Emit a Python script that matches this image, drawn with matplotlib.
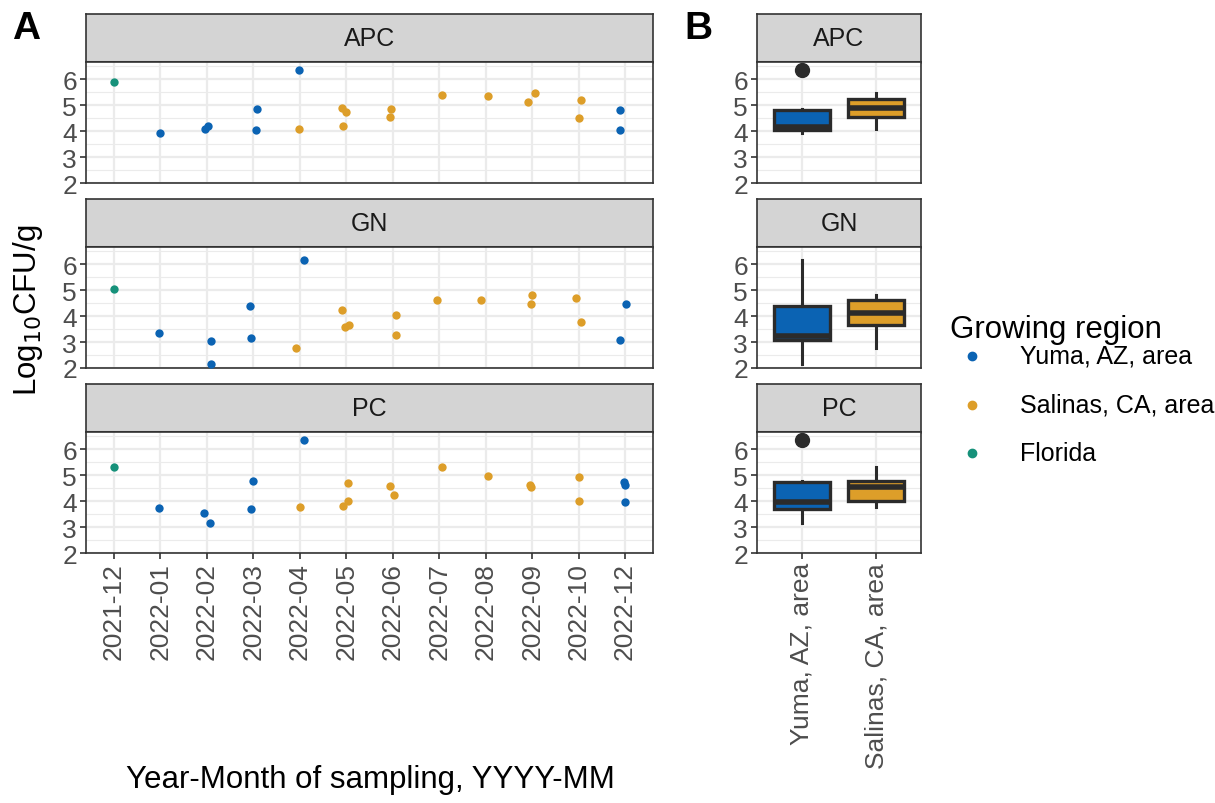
import numpy as np
import matplotlib.pyplot as plt
from matplotlib.ticker import MultipleLocator
from matplotlib.lines import Line2D

plt.rcParams['font.family'] = ['Liberation Sans', 'DejaVu Sans']

months = ['2021-12', '2022-01', '2022-02', '2022-03', '2022-04', '2022-05',
          '2022-06', '2022-07', '2022-08', '2022-09', '2022-10', '2022-12']
region_names = {'Y': 'Yuma, AZ, area', 'S': 'Salinas, CA, area', 'F': 'Florida'}
region_colors = {'Y': '#0B63B3', 'S': '#DD9E29', 'F': '#16917A'}

# APC
apc_month = ['2021-12', '2022-01', '2022-02', '2022-02', '2022-03', '2022-03', '2022-04',
             '2022-04', '2022-05', '2022-05', '2022-05', '2022-06', '2022-06', '2022-07',
             '2022-08', '2022-09', '2022-09', '2022-10', '2022-10', '2022-12', '2022-12']
apc_region = ['F', 'Y', 'Y', 'Y', 'Y', 'Y', 'Y', 'S', 'S', 'S', 'S', 'S', 'S', 'S',
              'S', 'S', 'S', 'S', 'S', 'Y', 'Y']
apc_value = [5.90, 3.92, 4.09, 4.19, 4.86, 4.04, 6.36, 4.08, 4.89, 4.75, 4.19, 4.85,
             4.55, 5.38, 5.35, 5.11, 5.45, 5.21, 4.50, 4.81, 4.05]
apc_jitter = [0, 0, -0.04, 0.02, 0.09, 0.05, -0.02, -0.01, -0.09, 0.0, -0.07, -0.04,
              -0.06, 0.06, 0.06, -0.10, 0.07, 0.05, 0.0, -0.10, -0.10]

# GN
gn_month = ['2021-12', '2022-01', '2022-02', '2022-02', '2022-03', '2022-03', '2022-04',
            '2022-04', '2022-05', '2022-05', '2022-05', '2022-06', '2022-06', '2022-07',
            '2022-08', '2022-09', '2022-09', '2022-10', '2022-10', '2022-12', '2022-12']
gn_region = ['F', 'Y', 'Y', 'Y', 'Y', 'Y', 'Y', 'S', 'S', 'S', 'S', 'S', 'S', 'S',
             'S', 'S', 'S', 'S', 'S', 'Y', 'Y']
gn_value = [5.06, 3.34, 3.03, 2.15, 4.37, 3.15, 6.17, 2.76, 4.22, 3.57, 3.66, 4.04,
            3.29, 4.62, 4.62, 4.80, 4.48, 4.68, 3.79, 4.48, 3.07]
gn_jitter = [0, -0.02, 0.08, 0.08, -0.08, -0.06, 0.08, -0.09, -0.09, -0.03, 0.05, 0.06,
             0.08, -0.05, -0.11, 0.0, -0.03, -0.05, 0.05, 0.01, -0.10]

# PC
pc_month = ['2021-12', '2022-01', '2022-02', '2022-02', '2022-03', '2022-03', '2022-04',
            '2022-04', '2022-05', '2022-05', '2022-05', '2022-06', '2022-06', '2022-07',
            '2022-08', '2022-09', '2022-09', '2022-10', '2022-10', '2022-12', '2022-12',
            '2022-12']
pc_region = ['F', 'Y', 'Y', 'Y', 'Y', 'Y', 'Y', 'S', 'S', 'S', 'S', 'S', 'S', 'S',
             'S', 'S', 'S', 'S', 'S', 'Y', 'Y', 'Y']
pc_value = [5.33, 3.74, 3.55, 3.16, 4.79, 3.70, 6.37, 3.78, 4.70, 4.01, 3.82, 4.58,
            4.23, 5.30, 4.95, 4.62, 4.53, 4.94, 3.99, 4.72, 4.61, 3.96]
pc_jitter = [0, -0.04, -0.06, 0.06, 0.0, -0.06, 0.08, 0.01, 0.03, 0.03, -0.07, -0.05,
             0.02, 0.05, 0.05, -0.04, -0.03, 0.0, 0.0, -0.03, 0.0, 0.0]

assays = [
    ('APC', apc_month, apc_region, apc_value, apc_jitter),
    ('GN', gn_month, gn_region, gn_value, gn_jitter),
    ('PC', pc_month, pc_region, pc_value, pc_jitter),
]

W, H = 1215, 804
fig = plt.figure(figsize=(W / 100, H / 100), dpi=100)


def fax(l, t, r, b):
    return fig.add_axes([l / W, 1 - b / H, (r - l) / W, (b - t) / H])


DARK = '#333333'
GRID = '#EBEBEB'


def style(ax, bottom):
    for s in ax.spines.values():
        s.set_color(DARK)
        s.set_linewidth(1.2)
    ax.set_ylim(2, 6.66)
    ax.set_yticks([2, 3, 4, 5, 6])
    ax.yaxis.set_minor_locator(MultipleLocator(0.5))
    ax.grid(True, which='major', color=GRID, lw=1.6, zorder=0)
    ax.grid(True, which='minor', axis='y', color=GRID, lw=0.8, zorder=0)
    ax.set_axisbelow(True)
    ax.tick_params(axis='both', which='major', direction='out', length=4.5, width=1.2,
                   color=DARK, labelcolor='#4D4D4D', labelsize=19, pad=2)
    ax.tick_params(axis='y', which='minor', length=0)
    if not bottom:
        ax.tick_params(axis='x', length=0, labelbottom=False)


def strip(l, t, r, b, label):
    s = fax(l, t, r, b)
    s.set_facecolor('#D4D4D4')
    s.set_xticks([])
    s.set_yticks([])
    for sp in s.spines.values():
        sp.set_color(DARK)
        sp.set_linewidth(1.2)
    s.spines['bottom'].set_linewidth(2.2)
    s.spines['bottom'].set_capstyle('butt')
    s.text(0.5, 0.5, label, ha='center', va='center', fontsize=18, color='#1A1A1A',
           transform=s.transAxes)


rows = [(15, 63, 184), (200, 248, 369), (385, 433, 554)]
xpos = {m: i for i, m in enumerate(months)}

for k, (name, mon, reg, val, jit) in enumerate(assays):
    st, pt, pb = rows[k]
    bottom = k == 2

    # panel A
    strip(86, st, 653, pt, name)
    ax = fax(86, pt, 653, pb)
    style(ax, bottom)
    for code in ['Y', 'S', 'F']:
        idx = [i for i, r in enumerate(reg) if r == code]
        xs = [xpos[mon[i]] + jit[i] for i in idx]
        ys = [val[i] for i in idx]
        ax.scatter(xs, ys, s=36, color=region_colors[code], zorder=3, linewidths=0)
    ax.set_xlim(-0.6, len(months) - 0.4)
    ax.set_xticks(range(len(months)))
    ax.set_xticklabels(months, rotation=90)

    # panel B
    strip(757, st, 921, pt, name)
    bx = fax(757, pt, 921, pb)
    style(bx, bottom)
    groups = [[v for v, r in zip(val, reg) if r == c] for c in ['Y', 'S']]
    bp = bx.boxplot(groups, positions=[1, 2], widths=0.75, patch_artist=True, whis=1.5,
                    showcaps=False,
                    boxprops=dict(edgecolor='#2B2B2B', linewidth=2.4),
                    medianprops=dict(color='#2B2B2B', linewidth=4),
                    whiskerprops=dict(color='#2B2B2B', linewidth=2.2),
                    flierprops=dict(marker='o', markerfacecolor='#2B2B2B',
                                    markeredgecolor='#2B2B2B', markersize=10))
    for patch, c in zip(bp['boxes'], ['Y', 'S']):
        patch.set_facecolor(region_colors[c])
        patch.set_zorder(3)
    for med in bp['medians']:
        med.set_zorder(4)
    bx.set_xlim(0.4, 2.6)
    bx.set_xticks([1, 2])
    bx.set_xticklabels([region_names['Y'], region_names['S']], rotation=90)

fig.text(28 / W, 1 - 310 / H, 'Log$_{10}$CFU/g', rotation=90, ha='center', va='center',
         fontsize=22.5, color='black')
fig.text(370 / W, 1 - 780 / H, 'Year-Month of sampling, YYYY-MM', ha='center',
         va='center', fontsize=22.5, color='black')
fig.text(12 / W, 1 - 29 / H, 'A', fontsize=28, fontweight='bold', va='center', ha='left')
fig.text(684 / W, 1 - 29 / H, 'B', fontsize=28, fontweight='bold', va='center', ha='left')

# legend
fig.text(950 / W, 1 - 330 / H, 'Growing region', fontsize=22.5, va='center', ha='left')
for j, code in enumerate(['Y', 'S', 'F']):
    yy = 1 - (357 + j * 48.5) / H
    fig.add_artist(Line2D([972 / W], [yy], marker='o', color=region_colors[code],
                          markersize=6, linestyle='none', transform=fig.transFigure))
    fig.text(1020 / W, yy, region_names[code], fontsize=18, va='center', ha='left')

fig.savefig('out.png', dpi=100)
